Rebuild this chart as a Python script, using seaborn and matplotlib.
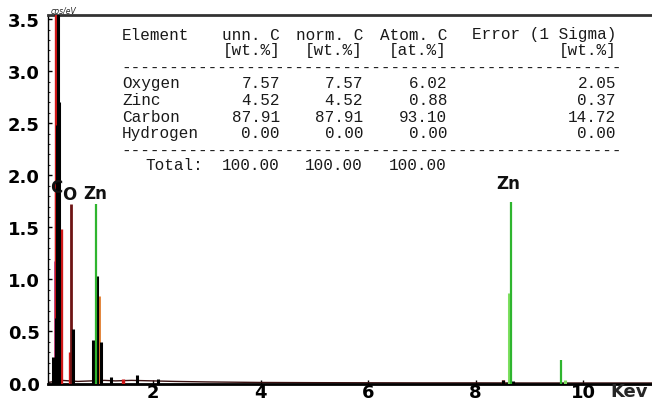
import matplotlib
matplotlib.use("Agg")
import matplotlib.pyplot as plt
import seaborn as sns
import pandas as pd

# ---------------- data ----------------
# EDS line intensities (keV, cps/eV) per display colour channel
black_E = [0.145, 0.19, 0.215, 0.225, 0.25, 0.505, 0.89, 0.965, 1.03, 1.22, 1.70, 2.09, 8.51, 8.70]
black_H = [0.25, 0.63, 2.48, 3.60, 2.70, 0.52, 0.42, 1.03, 0.40, 0.06, 0.085, 0.045, 0.03, 0.02]
red_E = [0.197, 0.205, 0.283, 0.46, 1.44, 8.50]
red_H = [3.60, 1.84, 1.48, 0.30, 0.04, 0.035]
maroon_E = [0.47]
maroon_H = [1.72]
magenta_E = [0.177]
magenta_H = [1.18]
green_E = [0.94, 8.655, 9.585]
green_H = [1.72, 1.74, 0.23]
lgreen_E = [0.946, 8.62, 9.66]
lgreen_H = [0.62, 0.87, 0.03]
orange_E = [1.0]
orange_H = [0.84]
yellow_E = [0.955]
yellow_H = [0.50]

# background continuum
bg_E = [0.05, 0.3, 0.6, 1.1, 1.3, 1.6, 2.0, 2.4, 3.0, 4.0, 5.0, 6.0, 7.0, 8.0, 9.0, 10.0, 11.28]
bg_H = [0.01, 0.03, 0.02, 0.03, 0.025, 0.03, 0.025, 0.02, 0.015, 0.01, 0.008, 0.007, 0.006, 0.006, 0.005, 0.005, 0.005]

# peak labels
label_text = ["C", "O", "Zn", "Zn"]
label_E = [0.20, 0.44, 0.93, 8.60]
label_H = [1.80, 1.73, 1.74, 1.84]

# quantification table
elements = ["Oxygen", "Zinc", "Carbon", "Hydrogen"]
unn_wt = [7.57, 4.52, 87.91, 0.00]
norm_wt = [7.57, 4.52, 87.91, 0.00]
atom_at = [6.02, 0.88, 93.10, 0.00]
err_wt = [2.05, 0.37, 14.72, 0.00]
totals = [100.00, 100.00, 100.00]
col_heads = ["unn. C", "norm. C", "Atom. C", "Error (1 Sigma)"]
col_units = ["[wt.%]", "[wt.%]", "[at.%]", "[wt.%]"]

x_ticks = [2, 4, 6, 8, 10]
y_ticks = [0.0, 0.5, 1.0, 1.5, 2.0, 2.5, 3.0, 3.5]

# ---------------- figure ----------------
sns.set_style("white")
plt.rcParams["font.family"] = ["DejaVu Sans"]

W, H = 652, 402
fig = plt.figure(figsize=(W / 100, H / 100), dpi=100)
ax = fig.add_axes([48 / W, 1 - 384.5 / H, (W - 48) / W, (384.5 - 16) / H])

def px(x, y):
    return x / W, 1 - y / H

sns.lineplot(x=bg_E, y=bg_H, ax=ax, color="#3a1010", lw=1.0, sort=True)

peaks = pd.DataFrame({
    "E": black_E + red_E + maroon_E + magenta_E + green_E + lgreen_E + orange_E + yellow_E,
    "H": black_H + red_H + maroon_H + magenta_H + green_H + lgreen_H + orange_H + yellow_H,
    "s": (["black"] * len(black_E) + ["red"] * len(red_E) + ["maroon"] * len(maroon_E)
          + ["magenta"] * len(magenta_E) + ["green"] * len(green_E) + ["lgreen"] * len(lgreen_E)
          + ["orange"] * len(orange_E) + ["yellow"] * len(yellow_E)),
})
styles = {
    "magenta": ("#b04aa8", 2.0),
    "lgreen": ("#7ee060", 2.2),
    "yellow": ("#e6e64a", 2.2),
    "orange": ("#e07a2a", 2.0),
    "red": ("#d01818", 2.4),
    "maroon": ("#6e1414", 2.0),
    "green": ("#2fb52f", 1.6),
    "black": ("#000000", 2.2),
}
order = ["magenta", "lgreen", "yellow", "orange", "red", "maroon", "black", "green"]
for s in order:
    d = peaks[peaks["s"] == s]
    c, lw = styles[s]
    ax.vlines(d["E"], 0, d["H"], color=c, lw=lw, zorder=3)

for t, e, h in zip(label_text, label_E, label_H):
    ax.text(e, h, t, ha="center", va="bottom", fontsize=12, fontweight="bold",
            color="#111111", zorder=5)

ax.set_xlim(0.047, 11.28)
ax.set_ylim(0, 3.54)
ax.set_xticks(x_ticks)
ax.set_xticklabels([str(v) for v in x_ticks])
ax.set_yticks(y_ticks)
ax.set_yticklabels([f"{v:.1f}" for v in y_ticks])
ax.set_yticks([i / 10 for i in range(36)], minor=True)
ax.tick_params(axis="both", which="major", direction="in", length=3, width=1,
               labelsize=13, colors="#000000", pad=4)
ax.tick_params(axis="y", which="minor", direction="in", length=1.5, width=0.8, left=True)
ax.tick_params(axis="x", which="major", pad=0, bottom=True)
ax.tick_params(axis="y", which="major", left=True, pad=6)
for lab in ax.get_xticklabels() + ax.get_yticklabels():
    lab.set_fontweight("bold")
ax.set_xlabel("")
ax.set_ylabel("")
ax.spines["right"].set_visible(False)
ax.spines["top"].set_color("#333333")
ax.spines["top"].set_linewidth(2.0)
ax.spines["bottom"].set_color("#000000")
ax.spines["bottom"].set_linewidth(2.0)
ax.spines["left"].set_color("#000000")
ax.spines["left"].set_linewidth(1.0)

fig.text(*px(51, 11), "cps/eV", fontsize=5.5, style="italic", color="#222222",
         ha="left", va="center")
fig.text(*px(629, 392), "Kev", fontsize=13, fontweight="bold", ha="center", va="center")

# table
mono = dict(family=["Liberation Mono", "DejaVu Sans Mono"], fontsize=11.5, color="#1a1a1a",
            va="center")
right_x = [280, 363, 447, 616]
fig.text(*px(122, 35), "Element", ha="left", **mono)
for xr, hd in zip(right_x, col_heads):
    fig.text(*px(xr, 35), hd, ha="right", **mono)
for xr, un in zip(right_x, col_units):
    fig.text(*px(xr, 51), un, ha="right", **mono)
fig.text(*px(121, 68), "-" * 52, ha="left", **mono)
row_y = [84, 100.5, 117, 133.5]
for yy, el, a, b, c, d in zip(row_y, elements, unn_wt, norm_wt, atom_at, err_wt):
    fig.text(*px(122, yy), el, ha="left", **mono)
    for xr, v in zip(right_x, [a, b, c, d]):
        fig.text(*px(xr, yy), f"{v:.2f}", ha="right", **mono)
fig.text(*px(121, 151), "-" * 52, ha="left", **mono)
fig.text(*px(145, 166), "Total:", ha="left", **mono)
for xr, v in zip(right_x[:3], totals):
    fig.text(*px(xr, 166), f"{v:.2f}", ha="right", **mono)

fig.savefig("out.png", dpi=100)
